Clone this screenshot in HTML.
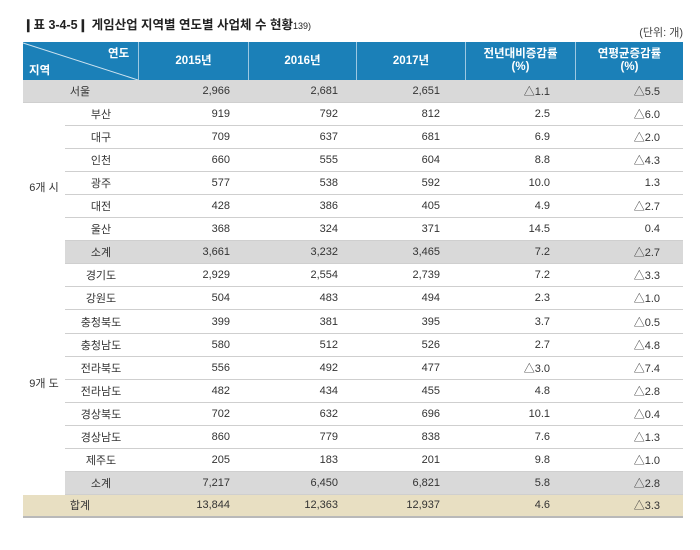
<!DOCTYPE html>
<html><head><meta charset="utf-8"><style>
body{margin:0;width:700px;height:550px;background:#fff;font-family:"Liberation Sans","Noto Sans CJK KR",sans-serif;position:relative;overflow:hidden;color:#333}
.t{position:absolute;left:23px;top:14px;font-size:12.5px;font-weight:bold;color:#222}
.u{position:absolute;right:17px;top:24px;font-size:11px;color:#444}
.hd{position:absolute;left:23px;top:42px;width:660px;height:38px;background:#1b80b8;color:#fff;font-weight:bold;font-size:11.5px}
.hd div{position:absolute;top:0;height:38px;display:flex;align-items:center;justify-content:center;text-align:center;line-height:13px;border-left:1px solid #9cc8e2;box-sizing:border-box}
.row{position:absolute;height:23px;font-size:11px;display:flex;align-items:center;border-bottom:1px solid #cfcfcf;box-sizing:border-box}
.row span{position:absolute;text-align:right}
.g{background:#d9d9d9}
.tot{background:#e8dfc2;border-bottom:2px solid #b9b9b9}
.grp{position:absolute;left:23px;width:42px;font-size:11px;text-align:center}
</style></head><body>
<div class="t">❙표 3-4-5❙ 게임산업 지역별 연도별 사업체 수 현황<span style="font-size:9px;font-weight:normal">139)</span></div>
<div class="u">(단위: 개)</div>
<div class="hd">
<svg style="position:absolute;left:0;top:0" width="115" height="38"><line x1="0" y1="1" x2="115" y2="38" stroke="#cfe3f0" stroke-width="1"/></svg>
<span style="position:absolute;left:85px;top:3px">연도</span>
<span style="position:absolute;left:6px;top:20px">지역</span>
<div style="left:115px;width:110px">2015년</div>
<div style="left:225px;width:108px">2016년</div>
<div style="left:333px;width:109px">2017년</div>
<div style="left:442px;width:110px">전년대비증감률<br>(%)</div>
<div style="left:552px;width:108px">연평균증감률<br>(%)</div>
</div>
<div id="rows"></div>
<div class="grp" style="top:179px">6개 시</div>
<div class="grp" style="top:375px">9개 도</div>
<script>
var d=[["서울","2,966","2,681","2,651","△1.1","△5.5",1],
["부산","919","792","812","2.5","△6.0",0],["대구","709","637","681","6.9","△2.0",0],["인천","660","555","604","8.8","△4.3",0],["광주","577","538","592","10.0","1.3",0],["대전","428","386","405","4.9","△2.7",0],["울산","368","324","371","14.5","0.4",0],["소계","3,661","3,232","3,465","7.2","△2.7",2],
["경기도","2,929","2,554","2,739","7.2","△3.3",0],["강원도","504","483","494","2.3","△1.0",0],["충청북도","399","381","395","3.7","△0.5",0],["충청남도","580","512","526","2.7","△4.8",0],["전라북도","556","492","477","△3.0","△7.4",0],["전라남도","482","434","455","4.8","△2.8",0],["경상북도","702","632","696","10.1","△0.4",0],["경상남도","860","779","838","7.6","△1.3",0],["제주도","205","183","201","9.8","△1.0",0],["소계","7,217","6,450","6,821","5.8","△2.8",2],
["합계","13,844","12,363","12,937","4.6","△3.3",3]];
var ends=[230,338,440,550,660],h="";
d.forEach(function(r,i){var top=80+i*23.05,t=r[6],left=(t==1||t==3)?23:65;
var cls="row"+(t==1||t==2?" g":"")+(t==3?" tot":"");
h+='<div class="'+cls+'" style="left:'+left+'px;width:'+(683-left)+'px;top:'+top+'px;height:23.05px">';
var nc=(t==1||t==3)?(80-left):(101-left);
h+='<span style="left:'+(nc-40)+'px;width:80px;text-align:center">'+r[0]+'</span>';
for(var k=0;k<5;k++)h+='<span style="left:'+(ends[k]-left-80)+'px;width:80px">'+r[k+1]+'</span>';
h+='</div>';});
document.getElementById("rows").innerHTML=h;
</script>
</body></html>
